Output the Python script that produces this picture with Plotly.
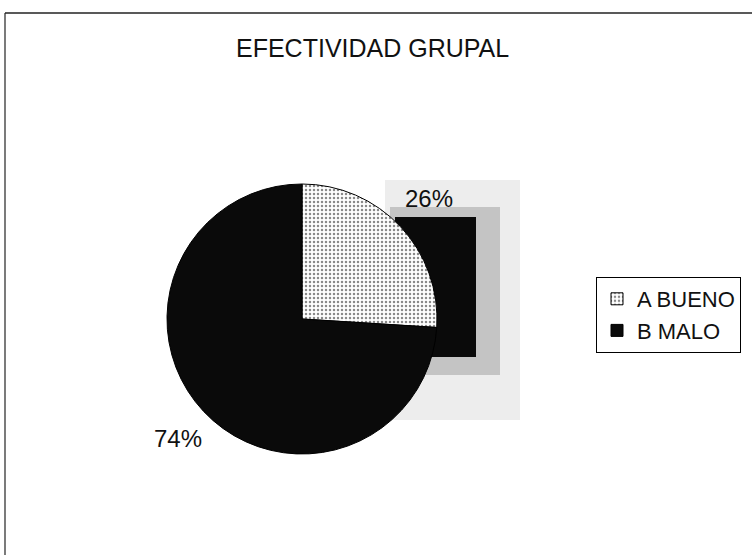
import plotly.graph_objects as go

W, H = 752, 555

title_text = "EFECTIVIDAD GRUPAL"
categories = ["A BUENO", "B MALO"]
values = [26, 74]
slice_colors = ["#d6d6d6", "#0a0a0a"]

total = sum(values)
pct_labels = [f"{round(v / total * 100)}%" for v in values]


def px(x):
    return x / W


def py(y):
    return 1 - y / H


cx, cy, r = 302, 319, 135
FONT = "Liberation Sans, Arial"

fig = go.Figure()
fig.add_trace(go.Pie(
    labels=categories,
    values=values,
    sort=False,
    direction="clockwise",
    rotation=0,
    textinfo="none",
    hoverinfo="label+percent",
    marker=dict(colors=slice_colors, line=dict(color="#000000", width=1),
                pattern=dict(shape=[".", ""], fgcolor="#8a8a8a", size=4, solidity=0.3)),
    domain=dict(x=[px(cx - r), px(cx + r)], y=[py(cy + r), py(cy - r)]),
    showlegend=True,
))

label_pos = [(429, 198), (178, 438)]
annotations = [
    dict(text=title_text, x=px(372), y=py(48), xref="paper", yref="paper",
         showarrow=False, font=dict(family=FONT, size=25, color="#111"),
         xanchor="center", yanchor="middle"),
]
for t, (lx, ly) in zip(pct_labels, label_pos):
    annotations.append(dict(text=t, x=px(lx), y=py(ly), xref="paper", yref="paper",
                            showarrow=False, xanchor="center", yanchor="middle",
                            font=dict(family=FONT, size=24, color="#111")))

shapes = [
    # scan halo behind the pie
    dict(type="rect", xref="paper", yref="paper", layer="below",
         x0=px(385), x1=px(520), y0=py(420), y1=py(180),
         fillcolor="#ededed", line=dict(width=0)),
    dict(type="rect", xref="paper", yref="paper", layer="below",
         x0=px(390), x1=px(500), y0=py(375), y1=py(207),
         fillcolor="#c4c4c4", line=dict(width=0)),
    dict(type="rect", xref="paper", yref="paper", layer="below",
         x0=px(395), x1=px(476), y0=py(357), y1=py(217),
         fillcolor="#0a0a0a", line=dict(width=0)),
    # chart frame (top and left edges)
    dict(type="line", xref="paper", yref="paper", x0=px(5), x1=1, y0=py(13), y1=py(13),
         line=dict(color="#222", width=1.5)),
    dict(type="line", xref="paper", yref="paper", x0=px(5), x1=px(5), y0=py(13), y1=0,
         line=dict(color="#222", width=1.2)),
]

fig.update_layout(
    width=W, height=H,
    margin=dict(l=0, r=0, t=0, b=0),
    paper_bgcolor="white", plot_bgcolor="white",
    annotations=annotations,
    shapes=shapes,
    legend=dict(x=px(596), y=py(277), xanchor="left", yanchor="top",
                bordercolor="#000", borderwidth=1, bgcolor="white",
                font=dict(family=FONT, size=22, color="#111"),
                itemwidth=30, tracegroupgap=0),
)

fig.write_html("out.html", config={"displayModeBar": False},
               post_script="document.body.style.margin='0';document.body.style.overflow='hidden';")
